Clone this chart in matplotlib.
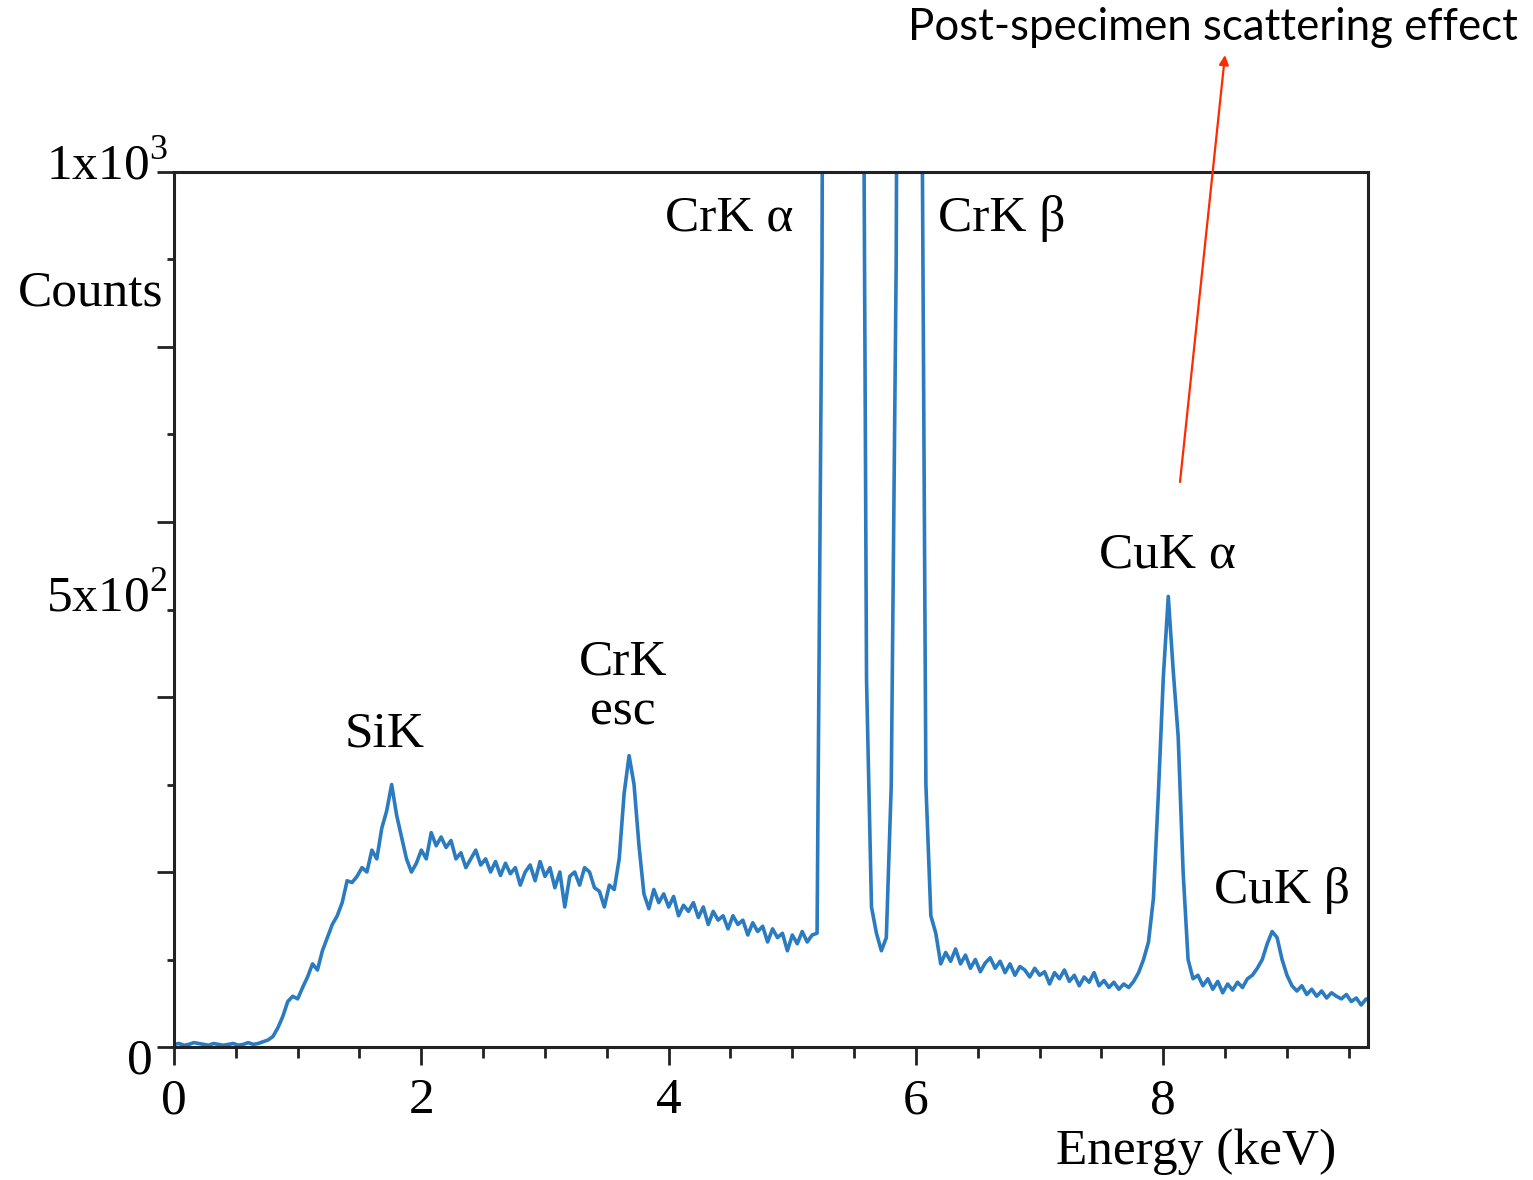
import numpy as np
import matplotlib
matplotlib.use("Agg")
import matplotlib.pyplot as plt
from matplotlib.ticker import FixedLocator, NullFormatter

plt.rcParams["font.family"] = ["Liberation Serif", "DejaVu Serif"]
plt.rcParams["mathtext.fontset"] = "custom"
plt.rcParams["mathtext.rm"] = "Liberation Serif"

# EDS spectrum, 40 eV channels starting at 0 keV
energy = np.round(np.arange(243) * 0.04, 2)
counts = [
    3, 4, 2, 3, 5, 4, 3, 2, 4, 3,
    2, 3, 4, 2, 3, 5, 3, 4, 6, 8,
    12, 22, 35, 52, 58, 55, 68, 80, 95, 88,
    110, 125, 140, 150, 165, 190, 188, 195, 205, 200,
    225, 215, 250, 270, 300, 265, 240, 215, 200, 210,
    225, 215, 245, 230, 240, 228, 236, 215, 222, 205,
    215, 225, 208, 215, 200, 212, 196, 210, 198, 205,
    185, 200, 208, 190, 212, 195, 205, 182, 200, 160,
    195, 200, 185, 205, 200, 182, 178, 160, 185, 180,
    215, 290, 333, 300, 230, 175, 158, 180, 165, 175,
    160, 172, 150, 162, 155, 165, 148, 160, 140, 155,
    145, 150, 135, 150, 140, 145, 128, 142, 132, 138,
    120, 135, 125, 130, 110, 128, 118, 132, 120, 128,
    130, 900, 3000, 6000, 9000, 10000, 9500, 7000, 4000, 1600,
    420, 160, 130, 110, 125, 300, 900, 2500, 3500, 3300,
    2200, 1300, 300, 150, 130, 95, 108, 98, 112, 95,
    105, 90, 100, 86, 96, 102, 90, 98, 85, 95,
    82, 92, 88, 80, 90, 82, 86, 72, 85, 78,
    88, 75, 82, 70, 80, 74, 85, 70, 76, 68,
    74, 66, 72, 68, 75, 85, 100, 120, 170, 290,
    423, 515, 430, 355, 200, 100, 78, 82, 70, 78,
    66, 75, 62, 72, 65, 74, 68, 78, 82, 90,
    100, 118, 132, 125, 100, 82, 70, 64, 70, 60,
    66, 58, 64, 56, 62, 58, 55, 60, 52, 56,
    48, 55, 52,
]

# peak labels: text, energy (keV), counts
peak_labels = [
    ("SiK", 1.70, 357),
    ("CrK\nesc", 3.63, 411),
    ("CrK \u03b1", 4.49, 947),
    ("CrK \u03b2", 6.69, 947),
    ("CuK \u03b1", 8.03, 562),
    ("CuK \u03b2", 8.96, 179),
]

W, H = 1533, 1180
fig = plt.figure(figsize=(W / 100, H / 100), dpi=100)
ax = fig.add_axes([174 / W, 133 / H, 1194 / W, 875 / H])

ax.plot(energy, counts, color="#2b7bc0", lw=2.6)
ax.set_xlim(0, 9.655)
ax.set_ylim(0, 1000)

for s in ax.spines.values():
    s.set_linewidth(2.2)
    s.set_color("#222222")

# x axis: labelled every 2 keV, minor every 0.5 keV
ax.xaxis.set_major_locator(FixedLocator([0, 2, 4, 6, 8]))
ax.xaxis.set_minor_locator(FixedLocator(np.arange(0.5, 9.6, 0.5)))
ax.tick_params(axis="x", which="major", direction="out", length=13, width=2,
               color="#222222", labelsize=37, pad=9)
ax.tick_params(axis="x", which="minor", direction="out", length=8, width=2,
               color="#222222")

# y axis: long ticks every 200, short every 100, labels drawn separately
ax.yaxis.set_major_locator(FixedLocator(np.arange(0, 1001, 200)))
ax.yaxis.set_minor_locator(FixedLocator(np.arange(100, 1000, 200)))
ax.yaxis.set_major_formatter(NullFormatter())
ax.tick_params(axis="y", which="major", direction="out", length=12, width=2,
               color="#222222")
ax.tick_params(axis="y", which="minor", direction="out", length=5, width=2,
               color="#222222")

fs = 37
fig.text(168 / W, 1 - 180 / H, "1x10$^3$", fontsize=fs, ha="right", va="baseline")
fig.text(167 / W, 1 - 612 / H, "5x10$^2$", fontsize=fs, ha="right", va="baseline")
fig.text(153 / W, 1 - 1073 / H, "0", fontsize=fs, ha="right", va="baseline")

fig.text(163 / W, 1 - 293 / H, "Counts", fontsize=fs, ha="right", va="center")
fig.text(1336 / W, 1 - 1152 / H, "Energy (keV)", fontsize=fs, ha="right", va="center")

for txt, e, c in peak_labels:
    ax.text(e, c, txt, fontsize=fs, ha="center", va="center", linespacing=1.1)

# scattering callout
fig.text(1518 / W, 1 - 28 / H, "Post-specimen scattering effect",
         fontsize=31.5, ha="right", va="center", family=["Lato", "DejaVu Sans"])
ax.annotate("", xy=(1225 / W, 1 - 55 / H), xycoords="figure fraction",
            xytext=(1180 / W, 1 - 482 / H), textcoords="figure fraction",
            arrowprops=dict(arrowstyle="-|>", color="#ff2a00", lw=1.6,
                            mutation_scale=14, shrinkA=0, shrinkB=0),
            annotation_clip=False)

fig.savefig("out.png", dpi=100)
